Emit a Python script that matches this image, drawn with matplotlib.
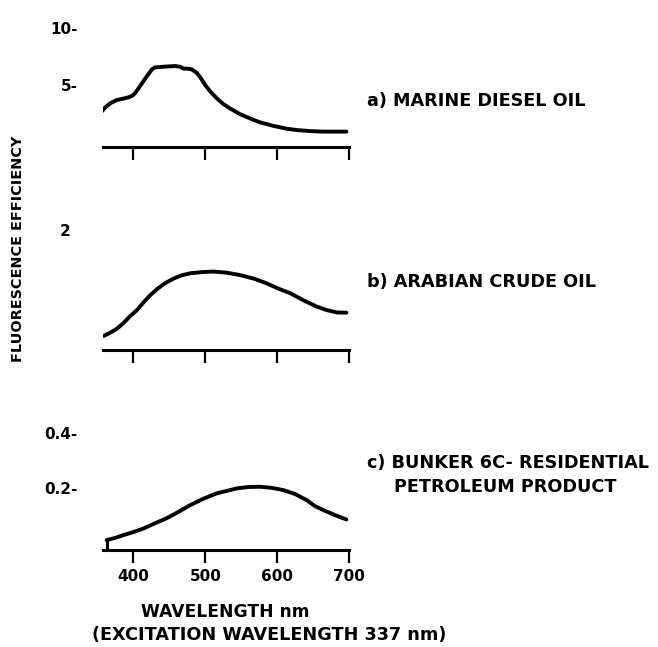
import matplotlib
matplotlib.use("Agg")
import matplotlib.pyplot as plt

# wavelength (nm) and fluorescence efficiency
wl_a = [356, 361, 368, 377, 386, 395, 400, 405, 412, 419, 426, 430, 442, 458, 465,
        470, 475, 481, 488, 494, 500, 507, 516, 525, 534, 548, 562, 576, 595, 613,
        627, 645, 664, 696]
eff_a = [2.65, 3.03, 3.39, 3.68, 3.80, 3.95, 4.12, 4.50, 5.15, 5.80, 6.39, 6.56, 6.62,
         6.68, 6.62, 6.45, 6.45, 6.39, 6.09, 5.59, 5.00, 4.42, 3.83, 3.33, 2.95, 2.44,
         2.06, 1.71, 1.39, 1.15, 1.03, 0.94, 0.89, 0.89]

wl_b = [359, 368, 377, 386, 395, 405, 414, 423, 433, 444, 456, 467, 479, 495, 511,
        530, 548, 567, 585, 601, 618, 636, 655, 669, 683, 696]
eff_b = [0.19, 0.245, 0.31, 0.405, 0.52, 0.63, 0.76, 0.88, 0.99, 1.09, 1.17, 1.225,
         1.26, 1.28, 1.29, 1.27, 1.23, 1.17, 1.09, 1.0, 0.92, 0.80, 0.69, 0.63, 0.59, 0.587]

wl_c = [363, 375, 386, 400, 414, 430, 446, 463, 479, 497, 516, 530, 544, 560, 576,
        592, 608, 625, 641, 652, 664, 680, 696]
eff_c = [0.012, 0.020, 0.030, 0.041, 0.054, 0.073, 0.091, 0.115, 0.139, 0.162, 0.182,
         0.191, 0.200, 0.205, 0.206, 0.202, 0.194, 0.179, 0.157, 0.136, 0.121, 0.103, 0.087]

x_ticks = [400, 500, 600, 700]
y_ticks_a = [5, 10]
y_ticks_b = [2]
y_ticks_c = [0.2, 0.4]
y_labels_a = ["5-", "10-"]
y_labels_b = ["2"]
y_labels_c = ["0.2-", "0.4-"]

FONT = dict(family="DejaVu Sans", weight="bold", size=11)
BIG = dict(family="DejaVu Sans", weight="bold", size=12.7)

W, H = 658, 647
fig = plt.figure(figsize=(W / 100, H / 100), dpi=100)


def make_axes(bottom_px, height_px, ylim, xs, ys, yt, yl, last, ypad=18):
    """one panel: curve, bottom axis with ticks, bare y labels"""
    ax = fig.add_axes([102.7 / W, 1 - bottom_px / H, 246.6 / W, height_px / H])
    ax.plot(xs, ys, color="black", lw=2.8, solid_capstyle="round",
            solid_joinstyle="round")
    ax.set_xlim(357.5, 700)
    ax.set_ylim(*ylim)
    for s in ["top", "right", "left"]:
        ax.spines[s].set_visible(False)
    ax.spines["bottom"].set_linewidth(2.2)
    ax.set_xticks(x_ticks)
    ax.tick_params(axis="x", direction="out", length=9.5, width=1.6, pad=4)
    if last:
        ax.set_xticklabels([str(t) for t in x_ticks], fontdict=FONT)
    else:
        ax.set_xticklabels([])
    ax.set_yticks(yt)
    ax.set_yticklabels(yl, fontdict=FONT)
    ax.tick_params(axis="y", length=0, pad=ypad)
    return ax


make_axes(146.7, 129.6, (-0.44, 11.0), wl_a, eff_a, y_ticks_a, y_labels_a, False)
make_axes(350, 131.7, (-0.051, 2.2), wl_b, eff_b, y_ticks_b, y_labels_b, False, ypad=23)
ax_c = make_axes(550, 130.4, (-0.024, 0.45), wl_c, eff_c, y_ticks_c, y_labels_c, True)
# small end mark where curve c starts
ax_c.plot([wl_c[0], wl_c[0]], [ax_c.get_ylim()[0], eff_c[0]], color="black", lw=2.2)

# sample names on the right
fig.text(367 / W, 1 - 101 / H, "a) MARINE DIESEL OIL", ha="left", va="center", **BIG)
fig.text(367 / W, 1 - 282 / H, "b) ARABIAN CRUDE OIL", ha="left", va="center", **BIG)
fig.text(367 / W, 1 - 463 / H, "c) BUNKER 6C- RESIDENTIAL", ha="left", va="center", **BIG)
fig.text(394 / W, 1 - 487 / H, "PETROLEUM PRODUCT", ha="left", va="center", **BIG)

fig.text(18 / W, 1 - 249 / H, "FLUORESCENCE EFFICIENCY", rotation=90,
         ha="center", va="center", family="DejaVu Sans", weight="bold", size=10.4)
fig.text(225 / W, 1 - 612 / H, "WAVELENGTH nm", ha="center", va="center",
         family="DejaVu Sans", weight="bold", size=12.3)
fig.text(269 / W, 1 - 635 / H, "(EXCITATION WAVELENGTH 337 nm)", ha="center",
         va="center", **BIG)

fig.savefig("out.png", dpi=100)
